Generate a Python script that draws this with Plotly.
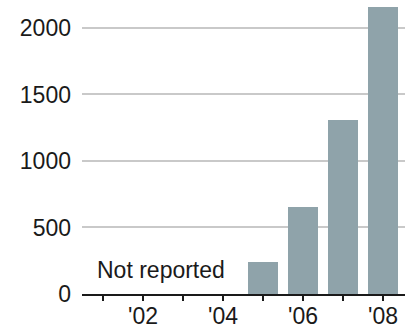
import plotly.graph_objects as go

years = [2005, 2006, 2007, 2008]
values = [240, 655, 1305, 2155]
tick_years = [2001, 2002, 2003, 2004, 2005, 2006, 2007, 2008]
tick_labels = ["", "'02", "", "'04", "", "'06", "", "'08"]
y_ticks = [0, 500, 1000, 1500, 2000]
note = "Not reported"

FONT = "Liberation Sans, Arial, sans-serif"

fig = go.Figure()
fig.add_trace(go.Bar(
    x=years, y=values, width=0.73,
    marker=dict(color="#8fa3aa", line=dict(width=0)),
    hoverinfo="skip",
))

fig.add_annotation(
    x=2002.46, y=180, xref="x", yref="y", text=note, showarrow=False,
    font=dict(family=FONT, size=23, color="#1a1a1a"),
    xanchor="center", yanchor="middle",
)

fig.update_layout(
    width=412, height=326,
    margin=dict(l=82, r=7, t=0, b=32, autoexpand=False),
    paper_bgcolor="white", plot_bgcolor="white",
    showlegend=False,
    font=dict(family=FONT, size=23, color="#1a1a1a"),
    bargap=0,
)
fig.update_xaxes(
    range=[2000.475, 2008.55],
    tickmode="array", tickvals=tick_years, ticktext=tick_labels,
    ticks="outside", ticklen=5, tickwidth=1.5, tickcolor="#1a1a1a",
    showline=True, linecolor="#1a1a1a", linewidth=1.5,
    showgrid=False, zeroline=False, automargin=False,
    ticklabelstandoff=-4,
    tickfont=dict(family=FONT, size=23, color="#1a1a1a"),
)
fig.update_yaxes(
    range=[0, 2210],
    tickmode="array", tickvals=y_ticks,
    ticks="", showline=False, zeroline=False, automargin=False,
    showgrid=True, gridcolor="#c9c9c9", gridwidth=1.5,
    ticklabelstandoff=10,
    tickfont=dict(family=FONT, size=23, color="#1a1a1a"),
)

fig.write_html("out.html")
